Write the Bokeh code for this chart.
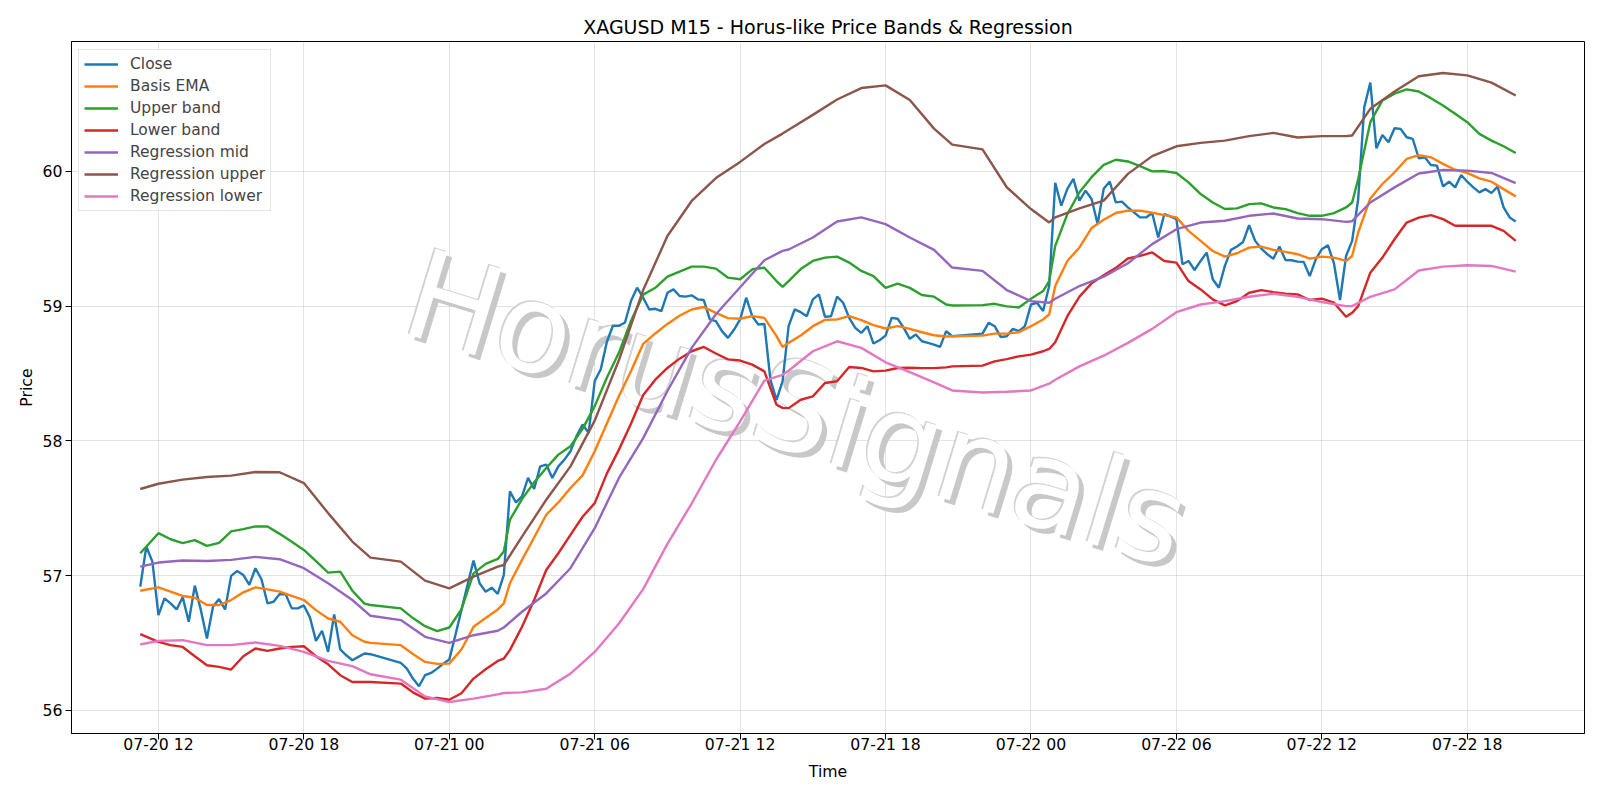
import pandas as pd
from bokeh.plotting import figure
from bokeh.models import (ColumnDataSource, FixedTicker, DatetimeTickFormatter,
                          Legend, LegendItem, Range1d)
from bokeh.embed import file_html
from bokeh.resources import INLINE
from bokeh.core.properties import value

FONT = "DejaVu Sans"
YEAR = "2025-"

# ---------------- data ----------------
# 15-minute bars from 07-20 11:15 to 07-22 20:00 (no bars in the daily 21:00-21:45 break)
close_start = "2025-07-20 11:15"
close_end = "2025-07-22 20:00"

close_values = [
    56.918, 57.216, 57.104, 56.707, 56.831, 56.794, 56.749, 56.839, 56.658, 56.926,
    56.744, 56.534, 56.769, 56.826, 56.749, 56.998, 57.035, 57.005, 56.931, 57.055,
    56.973, 56.794, 56.806, 56.864, 56.861, 56.757, 56.757, 56.779, 56.690, 56.516,
    56.591, 56.434, 56.712, 56.452, 56.409, 56.372, 56.397, 56.422, 56.417,
    56.352, 56.310, 56.236, 56.179, 56.261, 56.278, 56.310, 56.347, 56.377, 56.558,
    56.744, 56.931, 57.112, 56.943, 56.881, 56.911, 56.864, 57.005, 57.625, 57.543,
    57.588, 57.725, 57.643, 57.811, 57.824, 57.725, 57.811, 57.861, 57.923, 58.035,
    58.122, 58.060, 58.444, 58.531, 58.734, 58.854, 58.854, 58.878, 59.040, 59.137,
    59.062, 58.975, 58.980, 58.963, 59.099, 59.124, 59.075, 59.070, 59.080, 59.050,
    59.045, 58.901, 58.888, 58.814, 58.764, 58.826, 58.901, 59.062, 58.925, 58.863,
    58.868, 58.453, 58.304, 58.441, 58.851, 58.975, 58.955, 58.925, 59.050, 59.087,
    58.920, 58.925, 59.070, 59.025, 58.913, 58.839, 58.801, 58.851, 58.722, 58.747,
    58.781, 58.913, 58.906,
    58.839, 58.757, 58.789, 58.739, 58.727, 58.714, 58.697, 58.814, 58.776,
    58.796, 58.876, 58.851, 58.771, 58.776, 58.831, 58.814, 58.851, 59.012, 59.025,
    58.963, 59.149, 59.914, 59.745, 59.870, 59.944, 59.783, 59.857, 59.795, 59.609,
    59.870, 59.924, 59.770, 59.775, 59.733, 59.696, 59.658, 59.658, 59.691, 59.509,
    59.682, 59.665, 59.645, 59.310, 59.335, 59.268, 59.335, 59.397, 59.199, 59.136,
    59.298, 59.417, 59.442, 59.476, 59.600, 59.484, 59.427, 59.385, 59.352, 59.442,
    59.342, 59.340, 59.330, 59.328, 59.223, 59.347, 59.422, 59.452, 59.318, 59.045,
    59.372, 59.484, 59.794, 60.476, 60.658, 60.171, 60.270, 60.216, 60.320, 60.315,
    60.253, 60.241,
    60.097, 60.104, 60.047, 60.042, 59.888, 59.923, 59.881, 59.973, 59.923, 59.881,
    59.844, 59.868, 59.839, 59.886, 59.732, 59.658, 59.628,
]

# sample times (MM-DD HH:MM) for the EMA band curves
ema_times = [
    "07-20 11:15", "07-20 12:00", "07-20 12:30", "07-20 13:00", "07-20 13:30",
    "07-20 14:00", "07-20 14:30", "07-20 15:00", "07-20 15:30", "07-20 16:00",
    "07-20 16:30", "07-20 17:00", "07-20 17:30", "07-20 18:00", "07-20 18:30",
    "07-20 19:00", "07-20 19:30", "07-20 20:00", "07-20 20:30", "07-20 20:45",
    "07-20 22:00", "07-20 22:30", "07-20 23:00", "07-20 23:30", "07-21 00:00",
    "07-21 00:30", "07-21 01:00", "07-21 01:30", "07-21 02:00", "07-21 02:15",
    "07-21 02:30", "07-21 03:00", "07-21 03:30", "07-21 04:00", "07-21 04:30",
    "07-21 05:00", "07-21 05:30", "07-21 06:00", "07-21 06:30", "07-21 07:00",
    "07-21 07:30", "07-21 08:00", "07-21 08:30", "07-21 09:00", "07-21 09:30",
    "07-21 10:00", "07-21 10:30", "07-21 11:00", "07-21 11:30", "07-21 12:00",
    "07-21 12:30", "07-21 13:00", "07-21 13:30", "07-21 13:45", "07-21 14:00",
    "07-21 14:30", "07-21 15:00", "07-21 15:30", "07-21 16:00", "07-21 16:30",
    "07-21 17:00", "07-21 17:30", "07-21 18:00", "07-21 18:30", "07-21 19:00",
    "07-21 19:30", "07-21 20:00", "07-21 20:30", "07-21 20:45", "07-21 22:00",
    "07-21 22:30", "07-21 23:00", "07-21 23:30", "07-22 00:00", "07-22 00:30",
    "07-22 00:45", "07-22 01:00", "07-22 01:30", "07-22 02:00", "07-22 02:30",
    "07-22 03:00", "07-22 03:30", "07-22 04:00", "07-22 04:30", "07-22 05:00",
    "07-22 05:30", "07-22 06:00", "07-22 06:30", "07-22 07:00", "07-22 07:30",
    "07-22 08:00", "07-22 08:30", "07-22 09:00", "07-22 09:30", "07-22 10:00",
    "07-22 10:30", "07-22 11:00", "07-22 11:30", "07-22 12:00", "07-22 12:30",
    "07-22 13:00", "07-22 13:15", "07-22 13:30", "07-22 14:00", "07-22 14:30",
    "07-22 15:00", "07-22 15:30", "07-22 16:00", "07-22 16:30", "07-22 17:00",
    "07-22 17:30", "07-22 18:00", "07-22 18:30", "07-22 19:00", "07-22 19:30",
    "07-22 20:00",
]

basis_ema = [
    56.888, 56.913, 56.881, 56.849, 56.836, 56.782, 56.782, 56.819, 56.876, 56.913,
    56.898, 56.881, 56.849, 56.819, 56.744, 56.682, 56.658, 56.558, 56.509, 56.501,
    56.484, 56.419, 56.360, 56.345, 56.347, 56.452, 56.620, 56.685, 56.749, 56.794,
    56.943, 57.117, 57.283, 57.452, 57.543, 57.650, 57.744, 57.923, 58.129, 58.333,
    58.518, 58.720, 58.797, 58.868, 58.928, 58.975, 58.993, 58.950, 58.911, 58.906,
    58.926, 58.913, 58.777, 58.697, 58.727, 58.782, 58.851, 58.898, 58.901, 58.926,
    58.896, 58.859, 58.834, 58.851, 58.831, 58.806, 58.784, 58.774, 58.776, 58.781,
    58.796, 58.796, 58.806, 58.851, 58.901, 58.938, 59.149, 59.335, 59.435, 59.579,
    59.641, 59.691, 59.708, 59.708, 59.693, 59.675, 59.658, 59.558, 59.484, 59.409,
    59.367, 59.392, 59.434, 59.442, 59.417, 59.402, 59.385, 59.352, 59.367, 59.360,
    59.335, 59.372, 59.546, 59.799, 59.906, 59.993, 60.092, 60.120, 60.104, 60.055,
    60.012, 59.988, 59.948, 59.923, 59.868, 59.814,
]
upper_band = [
    57.166, 57.315, 57.270, 57.241, 57.263, 57.221, 57.243, 57.328, 57.345, 57.365,
    57.365, 57.310, 57.251, 57.191, 57.107, 57.022, 57.030, 56.888, 56.792, 56.782,
    56.757, 56.685, 56.625, 56.588, 56.615, 56.749, 57.017, 57.087, 57.124, 57.179,
    57.414, 57.568, 57.692, 57.799, 57.898, 57.960, 58.089, 58.258, 58.469, 58.655,
    58.891, 59.085, 59.136, 59.218, 59.256, 59.293, 59.293, 59.278, 59.211, 59.199,
    59.273, 59.285, 59.186, 59.142, 59.186, 59.275, 59.335, 59.360, 59.367, 59.323,
    59.261, 59.223, 59.136, 59.166, 59.135, 59.082, 59.070, 59.012, 59.005, 59.007,
    59.017, 58.998, 58.990, 59.055, 59.112, 59.186, 59.447, 59.683, 59.845, 59.957,
    60.048, 60.086, 60.073, 60.039, 60.000, 60.002, 59.988, 59.918, 59.831, 59.769,
    59.720, 59.725, 59.757, 59.762, 59.732, 59.720, 59.690, 59.670, 59.670, 59.690,
    59.732, 59.769, 59.943, 60.365, 60.526, 60.576, 60.608, 60.592, 60.543, 60.489,
    60.427, 60.365, 60.278, 60.228, 60.186, 60.136,
]
lower_band = [
    56.566, 56.509, 56.484, 56.471, 56.402, 56.335, 56.323, 56.303, 56.402, 56.459,
    56.442, 56.459, 56.471, 56.476, 56.402, 56.342, 56.261, 56.211, 56.211, 56.211,
    56.199, 56.134, 56.087, 56.092, 56.079, 56.127, 56.236, 56.305, 56.367, 56.385,
    56.447, 56.620, 56.819, 57.042, 57.166, 57.303, 57.437, 57.538, 57.757, 57.935,
    58.129, 58.340, 58.454, 58.541, 58.610, 58.665, 58.697, 58.648, 58.605, 58.596,
    58.566, 58.516, 58.268, 58.245, 58.243, 58.305, 58.330, 58.429, 58.442, 58.548,
    58.541, 58.516, 58.521, 58.541, 58.543, 58.540, 58.540, 58.545, 58.553, 58.558,
    58.590, 58.607, 58.627, 58.640, 58.665, 58.682, 58.732, 58.925, 59.070, 59.169,
    59.229, 59.284, 59.353, 59.373, 59.398, 59.335, 59.323, 59.186, 59.124, 59.050,
    59.005, 59.037, 59.099, 59.119, 59.104, 59.092, 59.087, 59.045, 59.055, 59.025,
    58.921, 58.950, 59.000, 59.248, 59.360, 59.496, 59.620, 59.656, 59.675, 59.645,
    59.596, 59.596, 59.596, 59.596, 59.558, 59.484,
]

# sample times (MM-DD HH:MM) for the regression curves
reg_times = [
    "07-20 11:15", "07-20 12:00", "07-20 13:00", "07-20 14:00", "07-20 15:00",
    "07-20 16:00", "07-20 17:00", "07-20 18:00", "07-20 19:00", "07-20 20:00",
    "07-20 20:45", "07-20 22:00", "07-20 23:00", "07-21 00:00", "07-21 01:00",
    "07-21 02:00", "07-21 02:15", "07-21 03:00", "07-21 04:00", "07-21 05:00",
    "07-21 06:00", "07-21 07:00", "07-21 08:00", "07-21 09:00", "07-21 10:00",
    "07-21 11:00", "07-21 12:00", "07-21 13:00", "07-21 13:45", "07-21 14:00",
    "07-21 15:00", "07-21 16:00", "07-21 17:00", "07-21 18:00", "07-21 19:00",
    "07-21 20:00", "07-21 20:45", "07-21 22:00", "07-21 23:00", "07-22 00:00",
    "07-22 00:45", "07-22 01:00", "07-22 02:00", "07-22 03:00", "07-22 04:00",
    "07-22 05:00", "07-22 06:00", "07-22 07:00", "07-22 08:00", "07-22 09:00",
    "07-22 10:00", "07-22 11:00", "07-22 12:00", "07-22 13:00", "07-22 13:15",
    "07-22 14:00", "07-22 15:00", "07-22 16:00", "07-22 17:00", "07-22 18:00",
    "07-22 19:00", "07-22 20:00",
]
regression_mid = [
    57.067, 57.097, 57.112, 57.109, 57.117, 57.139, 57.122, 57.055, 56.943, 56.819,
    56.702, 56.670, 56.546, 56.501, 56.558, 56.591, 56.615, 56.732, 56.868, 57.055,
    57.352, 57.725, 58.020, 58.370, 58.690, 58.940, 59.140, 59.340, 59.410, 59.420,
    59.509, 59.628, 59.658, 59.608, 59.509, 59.417, 59.286, 59.261, 59.119, 59.037,
    59.025, 59.055, 59.149, 59.219, 59.318, 59.460, 59.571, 59.620, 59.633, 59.670,
    59.687, 59.650, 59.645, 59.625, 59.630, 59.769, 59.881, 59.984, 60.010, 60.005,
    59.988, 59.913,
]
regression_upper = [
    57.643, 57.682, 57.712, 57.732, 57.742, 57.769, 57.767, 57.687, 57.464, 57.253,
    57.134, 57.104, 56.963, 56.906, 56.993, 57.067, 57.079, 57.290, 57.563, 57.811,
    58.150, 58.600, 59.120, 59.520, 59.780, 59.950, 60.070, 60.203, 60.280, 60.308,
    60.419, 60.533, 60.618, 60.638, 60.530, 60.317, 60.198, 60.163, 59.882, 59.720,
    59.621, 59.658, 59.725, 59.783, 59.981, 60.113, 60.186, 60.211, 60.228, 60.261,
    60.285, 60.251, 60.261, 60.261, 60.266, 60.464, 60.593, 60.706, 60.730, 60.712,
    60.658, 60.563,
]
regression_lower = [
    56.489, 56.516, 56.521, 56.484, 56.484, 56.504, 56.479, 56.434, 56.367, 56.328,
    56.268, 56.228, 56.104, 56.062, 56.087, 56.119, 56.129, 56.134, 56.161, 56.273,
    56.434, 56.645, 56.900, 57.236, 57.535, 57.858, 58.144, 58.447, 58.490, 58.520,
    58.665, 58.739, 58.690, 58.583, 58.510, 58.434, 58.374, 58.359, 58.364, 58.374,
    58.424, 58.453, 58.553, 58.632, 58.727, 58.831, 58.955, 59.012, 59.037, 59.069,
    59.092, 59.069, 59.030, 59.000, 59.000, 59.069, 59.124, 59.264, 59.293, 59.303,
    59.298, 59.256,
]

x_ticks = ["07-20 12:00", "07-20 18:00", "07-21 00:00", "07-21 06:00", "07-21 12:00",
           "07-21 18:00", "07-22 00:00", "07-22 06:00", "07-22 12:00", "07-22 18:00"]
y_ticks = [56, 57, 58, 59, 60]

series_labels = ["Close", "Basis EMA", "Upper band", "Lower band",
                 "Regression mid", "Regression upper", "Regression lower"]
series_colors = ["#1f77b4", "#ff7f0e", "#2ca02c", "#d62728",
                 "#9467bd", "#8c564b", "#e377c2"]

watermark_text = "HorusSignals"


def to_dt(strings):
    return pd.to_datetime([YEAR + s for s in strings])


# ---------------- build ----------------
ct = pd.date_range(close_start, close_end, freq="15min")
ct = ct[ct.hour != 21]
close_src = ColumnDataSource(dict(t=ct, v=close_values))
ema_src = ColumnDataSource(dict(t=to_dt(ema_times), basis=basis_ema, up=upper_band, lo=lower_band))
reg_src = ColumnDataSource(dict(t=to_dt(reg_times), rmid=regression_mid,
                                rup=regression_upper, rlo=regression_lower))

all_vals = (close_values + basis_ema + upper_band + lower_band +
            regression_mid + regression_upper + regression_lower)
vmin, vmax = min(all_vals), max(all_vals)
ypad = 0.05 * (vmax - vmin)
tmin, tmax = ct.min(), ct.max()
tpad = (tmax - tmin) * 0.05

p = figure(width=1600, height=800, x_axis_type="datetime", output_backend="svg",
           toolbar_location=None,
           x_range=Range1d(tmin - tpad, tmax + tpad),
           y_range=Range1d(vmin - ypad, vmax + ypad),
           min_border_left=71, min_border_right=16, min_border_top=41, min_border_bottom=67)

p.title.text = "XAGUSD M15 - Horus-like Price Bands & Regression"
p.title.align = "center"
p.title.text_font = FONT
p.title.text_font_size = "19px"
p.title.text_font_style = "normal"
p.title.text_color = "black"
p.title.standoff = 8

p.outline_line_color = "black"
p.outline_line_width = 1
p.background_fill_color = "white"
p.border_fill_color = "white"

xt = [t.timestamp() * 1000 for t in to_dt(x_ticks)]
p.xaxis.ticker = FixedTicker(ticks=xt)
fmt = "%m-%d %H"
p.xaxis.formatter = DatetimeTickFormatter(microseconds=fmt, milliseconds=fmt, seconds=fmt,
                                          minsec=fmt, minutes=fmt, hourmin=fmt, hours=fmt,
                                          days=fmt, months=fmt, years=fmt)
p.yaxis.ticker = FixedTicker(ticks=y_ticks)

for ax in (p.xaxis[0], p.yaxis[0]):
    ax.axis_line_color = "black"
    ax.major_tick_line_color = "black"
    ax.major_tick_out = 6
    ax.major_tick_in = 0
    ax.minor_tick_line_color = None
    ax.major_label_text_font = FONT
    ax.major_label_text_font_size = "15.7px"
    ax.major_label_text_color = "black"
    ax.axis_label_text_font = FONT
    ax.axis_label_text_font_size = "15.7px"
    ax.axis_label_text_font_style = "normal"
    ax.axis_label_text_color = "black"
p.xaxis.major_label_standoff = -5
p.yaxis.major_label_standoff = 3
p.xaxis.axis_label = "Time"
p.yaxis.axis_label = "Price"
p.xaxis.axis_label_standoff = 5
p.yaxis.axis_label_standoff = 4

for g in (p.xgrid[0], p.ygrid[0]):
    g.grid_line_color = "#b0b0b0"
    g.grid_line_alpha = 0.35
    g.grid_line_width = 1

# watermark (behind the lines)
wm_x = [pd.Timestamp("2025-07-21 14:20")]
wm_y = [58.24]
wm_common = dict(text=[watermark_text], angle=-17, angle_units="deg",
                 text_align="center", text_baseline="middle",
                 text_font=value(FONT), text_font_size="124px")
p.text(x=wm_x, y=wm_y, x_offset=5, y_offset=5, text_color="#c8c8c8", **wm_common)
p.text(x=wm_x, y=wm_y, x_offset=-1.5, y_offset=-1.5, text_color="#d2d2d2", **wm_common)
p.text(x=wm_x, y=wm_y, text_color="white", **wm_common)

LW = 2.4
renderers = [p.line("t", "v", source=close_src, color=series_colors[0], line_width=LW)]
for col, c in zip(["basis", "up", "lo"], series_colors[1:4]):
    renderers.append(p.line("t", col, source=ema_src, color=c, line_width=LW))
for col, c in zip(["rmid", "rup", "rlo"], series_colors[4:7]):
    renderers.append(p.line("t", col, source=reg_src, color=c, line_width=LW))

legend = Legend(items=[LegendItem(label=l, renderers=[r]) for l, r in zip(series_labels, renderers)],
                location=(7, 522))
legend.label_text_font = FONT
legend.label_text_font_size = "15.5px"
legend.label_height = 18
legend.glyph_height = 18
legend.glyph_width = 34
legend.label_standoff = 12
legend.spacing = 4
legend.padding = 5
legend.margin = 0
legend.border_line_color = "#cccccc"
legend.border_line_width = 1
legend.background_fill_alpha = 0.8
p.add_layout(legend, "center")

open("out.html", "w").write(file_html(p, INLINE))
